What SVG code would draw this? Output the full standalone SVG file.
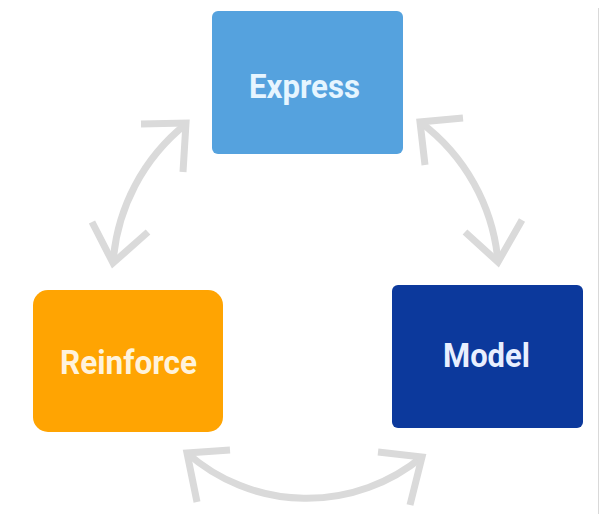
<svg xmlns="http://www.w3.org/2000/svg" width="605" height="514" viewBox="0 0 605 514">
  <style>
    .label { font-family: Roboto, "Liberation Sans", sans-serif; font-weight: bold; font-size: 33px; text-anchor: middle; }
    .link { fill: none; stroke: #dadada; stroke-width: 7; }
    .head { fill: none; stroke: #dadada; stroke-width: 7; stroke-linejoin: miter; }
  </style>
  <rect width="605" height="514" fill="#ffffff"/>
  <line x1="598.5" y1="8" x2="598.5" y2="514" stroke="#d9d9d9" stroke-width="1"/>

  <g id="connectors">
    <!-- Express <-> Reinforce -->
    <path class="link" d="M113,263 A195,195 0 0 1 186,124"/>
    <polyline class="head" points="141,124 186,123 183,172"/>
    <polyline class="head" points="92,222 113,263 148,232"/>
    <!-- Express <-> Model -->
    <path class="link" d="M420,122 A195,195 0 0 1 498,262"/>
    <polyline class="head" points="463,118 420,122 425,165"/>
    <polyline class="head" points="465,232 498,262 522,220"/>
    <!-- Model <-> Reinforce -->
    <path class="link" d="M422,457 A181,181 0 0 1 187,453"/>
    <polyline class="head" points="230,450 187,453 197,502"/>
    <polyline class="head" points="378,452 422,457 410,505"/>
  </g>

  <g id="express">
    <rect x="212" y="11" width="191" height="143" rx="6" fill="#55a2de"/>
    <text class="label" x="304.5" y="98" fill="#e6f5ff" textLength="111" lengthAdjust="spacingAndGlyphs">Express</text>
  </g>

  <g id="reinforce">
    <rect x="33" y="290" width="190" height="142" rx="15" fill="#ffa402"/>
    <text class="label" x="128.5" y="374" fill="#fff3dc" textLength="137" lengthAdjust="spacingAndGlyphs">Reinforce</text>
  </g>

  <g id="model">
    <rect x="392" y="285" width="191" height="143" rx="6" fill="#0c399c"/>
    <text class="label" x="486.5" y="367" fill="#e8efff" textLength="87" lengthAdjust="spacingAndGlyphs">Model</text>
  </g>
</svg>
